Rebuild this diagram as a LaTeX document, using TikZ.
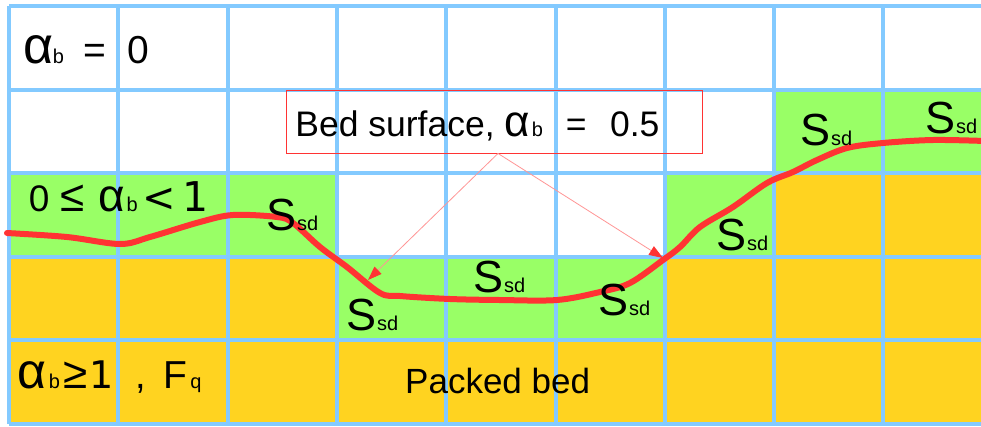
\documentclass[tikz,border=0pt]{standalone}
\usepackage{fontspec}
\setmainfont{Liberation Sans}
\newfontfamily\djv{DejaVu Sans}
\usetikzlibrary{arrows.meta}
\definecolor{gridblue}{RGB}{131,202,255}
\definecolor{bedgreen}{RGB}{153,255,102}
\definecolor{bedorange}{RGB}{255,211,32}
\definecolor{surfred}{RGB}{255,51,51}
\definecolor{arrowpink}{RGB}{255,150,150}
\newcommand\fsz[2]{{\fontsize{#1}{#1}\selectfont #2}}
\newcommand\dsz[2]{{\djv\fontsize{#1}{#1}\selectfont #2}}
\newcommand\ssd{\fsz{45}{S}\kern1pt\fsz{20}{sd}}
\begin{document}
\begin{tikzpicture}[x=1pt,y=-1pt,
  lbl/.style={anchor=base west, inner sep=0pt, text=black},
  gridline/.style={draw=gridblue, line width=4pt},
  surface/.style={draw=surfred, line width=6pt, line cap=round, line join=round},
  pointer/.style={draw=arrowpink, line width=0.8pt, -{Triangle[length=14pt,width=10pt,color=surfred]}},
  labelbox/.style={draw=surfred, line width=0.9pt, minimum width=416pt, minimum height=63pt, inner sep=0pt}]
\useasboundingbox (0,0) rectangle (981,426);
\clip (0,0) rectangle (981,426);
\fill[white] (0,0) rectangle (981,426);
% cells
\foreach \r/\c in {1/7,1/8,2/0,2/1,2/2,2/6,3/3,3/4,3/5}
  \fill[bedgreen] ({9+109.3*\c},{6+83.6*\r}) rectangle ++(109.3,83.6);
\foreach \r/\c in {2/7,2/8,3/0,3/1,3/2,3/6,3/7,3/8,4/0,4/1,4/2,4/3,4/4,4/5,4/6,4/7,4/8}
  \fill[bedorange] ({9+109.3*\c},{6+83.6*\r}) rectangle ++(109.3,83.6);
% grid
\foreach \c in {0,...,9}
  \draw[gridline] ({9+109.3*\c},6) -- ({9+109.3*\c},424);
\foreach \r in {0,...,5}
  \draw[gridline] (9,{6+83.6*\r}) -- (995,{6+83.6*\r});
% bed surface
\draw[surface] plot[smooth, tension=0.55] coordinates {(7,233) (67,237) (120,244) (150,237) (200,222) (233,215) (277,217) (293,223) (320,247) (347,267) (380,293) (400,296) (450,299) (500,300) (557,300) (600,292) (630,283) (663,260) (680,247) (700,227) (733,207) (767,183) (793,172) (817,160) (847,148) (883,143) (933,140) (985,141)};
% labels
\node[lbl] (l1) at (23,63) {\fsz{52}{α}\kern-0.5pt\fsz{20}{b}\kern20pt\fsz{39}{=\kern21pt0}};
\node[labelbox] (box) at (494,121.5) {};
\node[lbl] (l2) at (295.2,136.7) {\fsz{35.5}{Bed surface, }\fsz{44}{α}\kern1.8pt\fsz{20}{b}\kern23pt\fsz{35.5}{=\kern23.5pt0.5}};
\node[lbl] (l3) at (28.6,211.7) {\fsz{37}{0}\kern11pt\fsz{44}{≤}\kern14.2pt\fsz{46}{α}\kern1.4pt\fsz{20}{b}\kern4.2pt\dsz{40}{<}\kern6.8pt\dsz{41}{1}};
\node[lbl] (l4) at (17.5,388.5) {\fsz{50}{α}\kern2.3pt\fsz{20}{b}\kern3pt\fsz{44}{≥}\kern2.5pt\dsz{38}{1}\kern22pt\fsz{38}{,}\kern16.6pt\fsz{39}{F}\kern3.5pt\fsz{20}{q}};
\node[lbl] (pack) at (405,393) {\fsz{35}{Packed bed}};
\node[lbl] (s1) at (266,230) {\ssd};
\node[lbl] (s2) at (346,330) {\ssd};
\node[lbl] (s3) at (473,292) {\ssd};
\node[lbl] (s4) at (598,315) {\ssd};
\node[lbl] (s5) at (716,250) {\ssd};
\node[lbl] (s6) at (800,145) {\ssd};
\node[lbl] (s7) at (925,133) {\ssd};
% pointers
\coordinate (tipL) at (368,280);
\coordinate (tipR) at (663,258);
\draw[pointer] ([xshift=4pt]box.south) -- (tipL);
\draw[pointer] ([xshift=4pt]box.south) -- (tipR);
\end{tikzpicture}
\end{document}
